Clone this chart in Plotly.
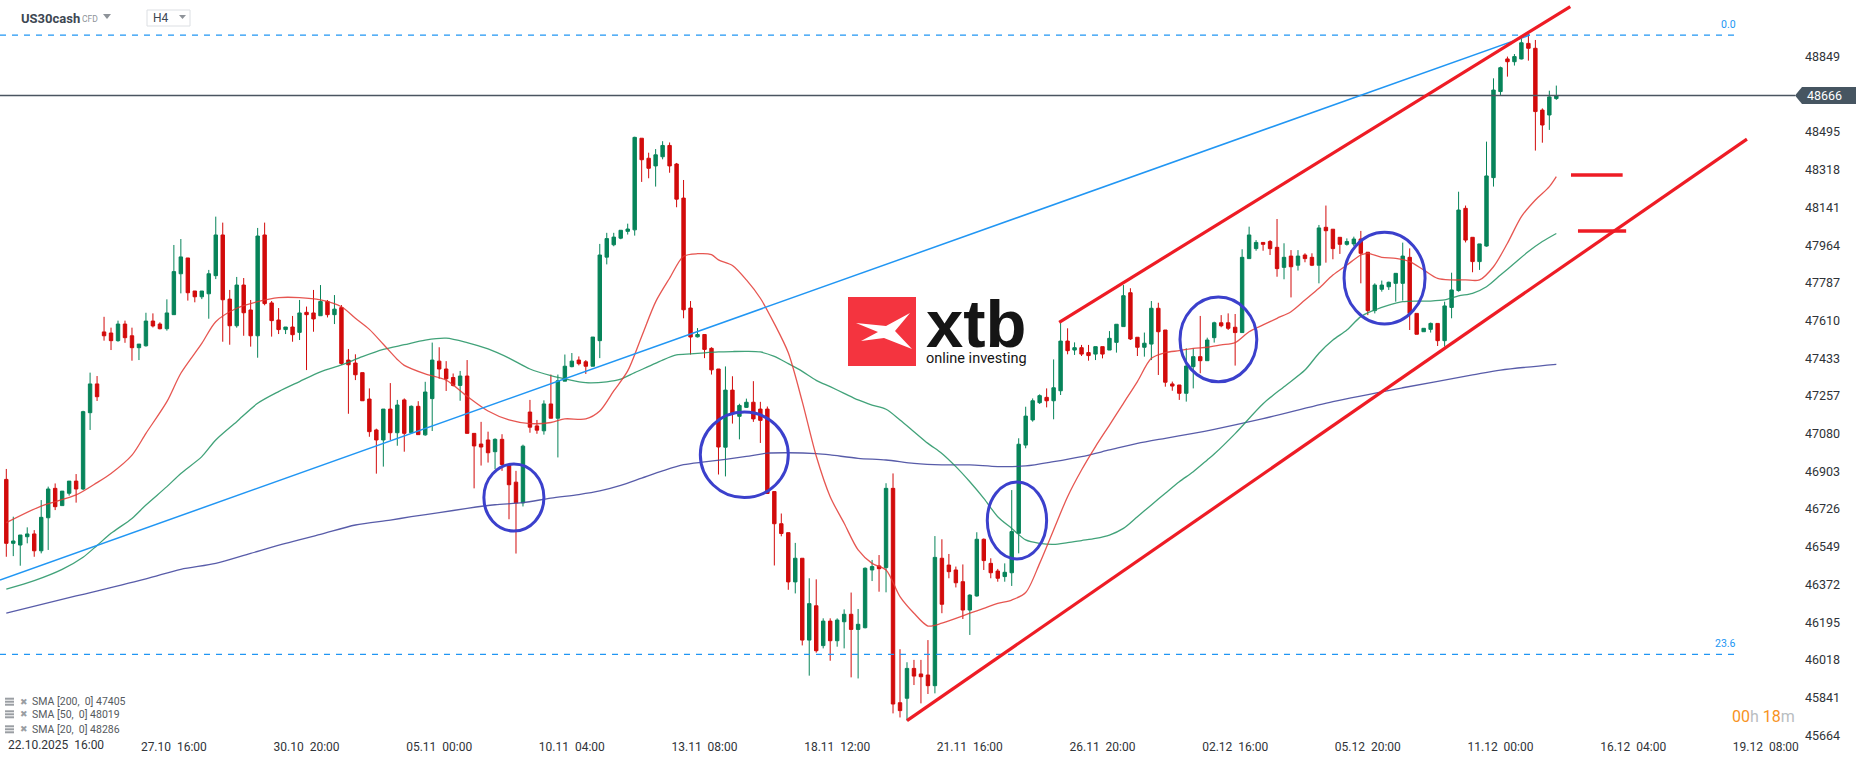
import plotly.graph_objects as go

# ---------------- DATA ----------------
OPEN = [46865,46565,46557,46596,46609,46530,46685,46823,46742,46800,
46857,46820,47178,47313,47557,47552,47516,47594,47539,47483,
47492,47608,47594,47572,47638,47830,47904,47749,47722,47736,
47821,48012,47711,47586,47777,47660,47539,48012,47693,47613,
47568,47580,47555,47649,47646,47633,47700,47638,47671,47425,
47411,47366,47242,47097,47050,47195,47084,47238,47084,47208,
47074,47244,47420,47383,47343,47306,47350,47081,47031,47050,
46995,47053,46935,46852,46755,47181,47116,47093,47219,47152,
47326,47394,47425,47417,47396,47516,47908,47966,47997,48029,
48036,48466,48372,48336,48379,48432,48345,48185,47669,47534,
47545,47480,47383,47016,47284,47161,47203,47227,47195,47195,
46808,46657,46615,46384,46495,46111,46272,46085,46200,46108,
46197,46232,46161,46169,46440,46459,46451,46823,45817,45838,
45978,45952,45947,45897,46495,46463,46440,46385,46252,46318,
46584,46471,46435,46409,46427,46612,47026,47144,47225,47250,
47234,47281,47514,47472,47483,47460,47453,47488,47472,47508,
47582,47741,47532,47485,47500,47668,47566,47313,47308,47269,
47394,47441,47422,47530,47600,47600,47579,47554,47901,47948,
47977,47981,47954,47860,47913,47870,47918,47907,47870,48048,
48039,48001,47968,47970,47993,47931,47657,47757,47769,47785,
47785,47907,47644,47558,47569,47597,47516,47672,47751,48137,
48001,47887,47960,48281,48685,48838,48825,48838,48911,48888,
48598,48575,48652]

HIGH = [46914,46690,46604,46640,46627,46768,46831,46846,46810,46857,
46890,47187,47366,47350,47628,47577,47610,47610,47577,47500,
47647,47644,47602,47710,47965,47993,47904,47749,47749,47848,
48098,48070,47754,47815,47810,47707,48045,48070,47702,47669,
47580,47632,47707,47676,47754,47777,47707,47730,47683,47477,
47452,47366,47292,47103,47195,47317,47238,47245,47212,47232,
47323,47507,47485,47420,47362,47374,47425,47081,47135,47089,
47058,47077,46939,46905,47028,47238,47144,47236,47357,47357,
47451,47458,47442,47425,47533,47970,48022,48022,48034,48065,
48473,48466,48398,48415,48452,48446,48350,48270,47702,47575,
47545,47485,47383,47395,47349,47220,47244,47326,47229,47207,
46808,46705,46615,46567,46495,46401,46396,46213,46213,46213,
46255,46334,46257,46452,46487,46510,46847,46893,46068,46007,
46018,46018,46111,46599,46584,46515,46456,46466,46326,46617,
46588,46495,46445,46471,46815,47058,47206,47245,47264,47292,
47428,47605,47574,47508,47496,47496,47488,47488,47561,47593,
47777,47762,47532,47554,47702,47694,47566,47324,47308,47480,
47480,47632,47530,47605,47636,47644,47641,47945,48051,47988,
47977,47988,48087,47973,47941,47941,47926,47926,48059,48150,
48039,48001,47996,48004,48031,47931,47785,47798,47793,47832,
47976,47949,47644,47574,47601,47597,47699,47835,48215,48150,
48001,47970,48450,48747,48802,48849,48861,48950,48955,48927,
48606,48689,48713]

LOW = [46502,46505,46460,46565,46502,46518,46534,46721,46742,46789,
46756,46815,47097,47233,47516,47472,47511,47506,47422,47425,
47488,47578,47569,47563,47638,47738,47704,47696,47711,47619,
47805,47511,47497,47577,47539,47488,47436,47682,47535,47547,
47547,47511,47519,47378,47558,47633,47625,47594,47402,47173,
47331,47234,47065,46892,46925,47050,47023,46995,47081,47075,
47070,47092,47337,47280,47301,47234,47081,46823,46930,46944,
46913,46905,46678,46517,46738,47084,47079,47075,47152,46968,
47326,47391,47400,47360,47396,47434,47874,47959,47992,48014,
48009,48261,48278,48239,48367,48304,48142,47621,47451,47531,
47434,47357,46888,46879,47127,47053,47200,47135,47036,46797,
46461,46598,46347,46330,46086,45944,46052,46072,46014,46080,
46072,45936,45931,46166,46388,46338,46335,45767,45748,45733,
45900,45814,45858,45861,46237,46401,46358,46210,46135,46315,
46440,46401,46385,46385,46365,46518,47011,47136,47219,47203,
47147,47261,47452,47449,47444,47422,47425,47433,47472,47460,
47582,47519,47444,47441,47425,47355,47300,47281,47238,47230,
47292,47363,47422,47507,47579,47566,47399,47554,47901,47938,
47938,47918,47816,47804,47719,47845,47884,47866,47785,47882,
47898,47923,47962,47960,47785,47636,47644,47746,47754,47699,
47704,47566,47546,47558,47554,47491,47488,47621,47746,47977,
47837,47848,47957,48239,48669,48755,48807,48836,48830,48408,
48445,48505,48646]

CLOSE = [46565,46576,46604,46609,46530,46687,46820,46737,46810,46857,
46820,47183,47313,47253,47539,47516,47594,47530,47483,47500,
47608,47585,47572,47646,47840,47909,47741,47722,47749,47830,
48012,47708,47586,47777,47647,47539,48007,47690,47610,47568,
47580,47544,47646,47638,47618,47700,47638,47664,47409,47403,
47356,47234,47089,47050,47195,47084,47214,47081,47208,47075,
47275,47425,47383,47337,47306,47350,47081,47022,47017,46990,
47053,46935,46840,46755,47021,47110,47096,47219,47152,47328,
47396,47420,47408,47396,47533,47918,47995,48002,48034,48040,
48470,48365,48325,48388,48432,48336,48180,47661,47533,47545,
47475,47379,47017,47284,47176,47212,47227,47149,47142,46799,
46657,46611,46384,46495,46111,46282,46061,46200,46108,46205,
46232,46161,46185,46448,46456,46446,46823,45811,45780,45978,
45942,45939,45897,46499,46279,46432,46380,46252,46322,46584,
46484,46427,46401,46429,46620,47030,47162,47234,47258,47234,
47295,47514,47469,47483,47453,47446,47488,47453,47527,47593,
47727,47524,47485,47504,47668,47558,47321,47303,47269,47397,
47441,47422,47519,47600,47586,47574,47554,47907,48012,47977,
47968,47948,47854,47907,47863,47913,47901,47870,48045,48032,
47948,47968,47981,47993,47926,47657,47777,47777,47790,47832,
47913,47644,47546,47574,47597,47516,47679,47754,48129,47988,
47887,47970,48289,48692,48797,48825,48849,48914,48888,48591,
48528,48660,48666]

SMA20_X = [0,5,10,13,15,18,20,23,25,28,30,33,36,39,42,45,48,50,52,54,
56,57,60,63,66,69,72,75,78,80,83,85,87,89,91,93,95,97,99,101,
102,104,106,108,110,112,114,116,118,120,122,124,126,128,130,132,134,136,138,140,
142,144,146,148,150,152,154,156,158,160,162,164,166,168,170,172,174,176,178,180,
182,184,186,188,190,192,194,195,197,199,201,203,205,207,209,211,213,215,217,219,221,222]
SMA20_V = [46662,46740,46792,46850,46893,46979,47081,47230,47363,47503,47605,47668,47699,47718,47718,47707,47675,47621,47569,47499,
47428,47400,47360,47331,47255,47186,47144,47127,47132,47149,47149,47186,47280,47374,47536,47698,47809,47912,47924,47920,
47895,47869,47801,47715,47596,47459,47230,46975,46784,46659,46534,46471,46440,46315,46237,46177,46190,46213,46237,46260,
46283,46299,46334,46471,46628,46784,46909,47019,47120,47222,47324,47433,47460,47469,47480,47485,47496,47507,47558,47590,
47621,47652,47707,47762,47824,47871,47918,47926,47907,47902,47887,47848,47808,47801,47801,47801,47863,47973,48098,48176,48239,48286]

SMA50_X = [0,4,8,11,13,15,18,20,23,25,28,30,33,36,39,42,45,48,51,54,
57,60,63,66,69,72,75,78,80,83,86,88,90,92,94,96,98,100,102,104,
106,108,110,112,114,116,118,120,122,124,126,128,130,132,134,136,138,140,142,144,
146,148,150,152,154,156,158,160,162,164,166,168,170,172,173,176,180,183,186,188,
190,192,194,196,198,200,202,204,206,208,210,212,214,216,218,220,222]
SMA50_V = [46350,46390,46443,46500,46555,46612,46682,46745,46831,46893,46972,47050,47136,47222,47277,47324,47370,47402,47441,47475,
47497,47519,47528,47507,47477,47434,47383,47352,47337,47319,47323,47335,47366,47395,47425,47449,47454,47459,47463,47465,
47466,47463,47442,47408,47372,47330,47300,47269,47238,47214,47194,47144,47089,47034,46987,46925,46854,46776,46690,46635,
46581,46565,46560,46568,46578,46588,46604,46635,46690,46745,46800,46854,46901,46956,46984,47080,47220,47300,47378,47457,
47519,47566,47629,47660,47683,47699,47702,47702,47707,47726,47738,47769,47824,47879,47934,47981,48019]

SMA200_X = [0,10,20,25,30,35,40,45,50,55,58,62,66,70,74,78,82,85,88,91,
94,97,100,103,106,109,112,116,118,122,126,130,134,138,142,146,150,154,158,162,
166,170,173,180,190,200,210,214,222]
SMA200_V = [46238,46318,46398,46443,46471,46518,46565,46607,46651,46674,46690,46709,46729,46746,46756,46777,46794,46811,46837,46871,
46905,46934,46947,46959,46973,46988,46990,46986,46980,46964,46956,46940,46933,46933,46925,46928,46948,46972,47003,47034,
47058,47081,47100,47150,47230,47295,47355,47378,47405]

XTICK_IDX = [5, 24, 43, 62, 81, 100, 119, 138, 157, 176, 195, 214, 233, 252]
XTICK_TEXT = ["22.10.2025  16:00", "27.10  16:00", "30.10  20:00", "05.11  00:00",
              "10.11  04:00", "13.11  08:00", "18.11  12:00", "21.11  16:00",
              "26.11  20:00", "02.12  16:00", "05.12  20:00", "11.12  00:00",
              "16.12  04:00", "19.12  08:00"]
YTICKS = [45664, 45841, 46018, 46195, 46372, 46549, 46726, 46903, 47080, 47257,
          47433, 47610, 47787, 47964, 48141, 48318, 48495, 48849]

LAST_PRICE = 48666
FIB_LEVELS = [("0.0", 48950), ("23.6", 46044)]
TREND_BLUE = ((-0.9, 46393), (218.2, 48950))
CHANNEL_UPPER = ((150.8, 47602), (224.0, 49084))
CHANNEL_LOWER = ((129.0, 45733), (249.3, 48462))
TARGETS = [(224.1, 231.5, 48293), (225.1, 232.0, 48031)]
CIRCLES = [(68.4, 77.0, 46623, 46937), (99.4, 112.0, 46780, 47181),
           (140.5, 149.0, 46492, 46853), (168.1, 179.1, 47323, 47721),
           (191.6, 203.2, 47594, 48025)]
SMA_LEGEND = [("SMA [200,  0]", 47405), ("SMA [50,  0]", 48019), ("SMA [20,  0]", 48286)]
SYMBOL, SYMBOL_TYPE, TIMEFRAME = "US30cash", "CFD", "H4"
TIMER = ("00", "18")
LOGO_WORD, LOGO_TAG = "xtb", "online investing"

# ---------------- STYLE / LAYOUT ----------------
W, H = 1866, 761
ML, MR, MT, MB = 0, 66, 0, 23
PW, PH = W - ML - MR, H - MT - MB
XR = [-0.902, 256.9]
YR = [45651.5, 49114.6]
GREEN, RED = "#07845a", "#d20b0b"
FONT = "Roboto"
NB = "\u00a0"

def px(X):  # pixel -> paper x
    return X / PW
def py(Y):  # pixel -> paper y
    return 1 - Y / PH
def yp(p):  # price -> paper y
    return (p - YR[0]) / (YR[1] - YR[0])

fig = go.Figure()
fig.add_trace(go.Candlestick(
    x=list(range(len(OPEN))), open=OPEN, high=HIGH, low=LOW, close=CLOSE,
    increasing=dict(line=dict(color=GREEN, width=1), fillcolor=GREEN),
    decreasing=dict(line=dict(color=RED, width=1), fillcolor=RED),
    whiskerwidth=0, hoverinfo="skip"))

for xs, vs, col in [(SMA200_X, SMA200_V, "rgba(70,74,160,0.9)"),
                    (SMA50_X, SMA50_V, "rgba(32,146,98,0.85)"),
                    (SMA20_X, SMA20_V, "rgba(226,56,50,0.85)")]:
    fig.add_trace(go.Scatter(x=xs, y=vs, mode="lines", hoverinfo="skip",
                             line=dict(color=col, width=1.3, shape="spline", smoothing=0.8)))

shapes = []
for lab, lv in FIB_LEVELS:
    shapes.append(dict(type="line", xref="x", yref="y", x0=XR[0], x1=248.0, y0=lv, y1=lv,
                       line=dict(color="#2196f3", width=1.2, dash="6px,6px")))
shapes.append(dict(type="line", xref="x", yref="y", x0=XR[0], x1=256.2, y0=LAST_PRICE, y1=LAST_PRICE,
                   line=dict(color="#4a5560", width=1.5)))
shapes.append(dict(type="line", xref="x", yref="y", x0=TREND_BLUE[0][0], y0=TREND_BLUE[0][1],
                   x1=TREND_BLUE[1][0], y1=TREND_BLUE[1][1], line=dict(color="#2196f3", width=1.5)))
for (a, b) in [CHANNEL_UPPER, CHANNEL_LOWER]:
    shapes.append(dict(type="line", xref="x", yref="y", x0=a[0], y0=a[1], x1=b[0], y1=b[1],
                       line=dict(color="#ee1c25", width=3.2)))
for x0, x1, lv in TARGETS:
    shapes.append(dict(type="line", xref="x", yref="y", x0=x0, x1=x1, y0=lv, y1=lv,
                       line=dict(color="#ee1c25", width=3.5)))
for x0, x1, y0, y1 in CIRCLES:
    shapes.append(dict(type="circle", xref="x", yref="y", x0=x0, x1=x1, y0=y0, y1=y1,
                       line=dict(color="#3b40cc", width=3)))

# current price tag
pc = yp(LAST_PRICE)
dh = 8.5 / PH
shapes.append(dict(type="path", xref="paper", yref="paper",
                   path=f"M {px(1795)},{pc} L {px(1802)},{pc+dh} L {px(1856)},{pc+dh} L {px(1856)},{pc-dh} L {px(1802)},{pc-dh} Z",
                   fillcolor="#465561", line=dict(width=0)))

# header widgets
shapes.append(dict(type="path", xref="paper", yref="paper",
                   path=f"M {px(103)},{py(14)} L {px(111)},{py(14)} L {px(107)},{py(19)} Z",
                   fillcolor="#8e9399", line=dict(width=0)))
shapes.append(dict(type="rect", xref="paper", yref="paper", x0=px(147), x1=px(190), y0=py(26), y1=py(10),
                   fillcolor="white", line=dict(color="#dcdfe3", width=1)))
shapes.append(dict(type="path", xref="paper", yref="paper",
                   path=f"M {px(179)},{py(15)} L {px(186)},{py(15)} L {px(182.5)},{py(19)} Z",
                   fillcolor="#8e9399", line=dict(width=0)))

# logo
shapes.append(dict(type="rect", xref="paper", yref="paper", x0=px(848), x1=px(916), y0=py(366), y1=py(297),
                   fillcolor="#f4343f", line=dict(width=0)))
logo_pts = [(856, 323), (886, 326), (910, 313), (895, 331), (912, 349), (884, 338), (861, 341), (878, 332)]
shapes.append(dict(type="path", xref="paper", yref="paper",
                   path="M " + " L ".join(f"{px(a)},{py(b)}" for a, b in logo_pts) + " Z",
                   fillcolor="white", line=dict(width=0)))

# legend icons
for k, Y in enumerate([701.7, 714.3, 729.3]):
    for dy in (-3, 0, 3):
        shapes.append(dict(type="line", xref="paper", yref="paper", x0=px(5), x1=px(14),
                           y0=py(Y + dy), y1=py(Y + dy), line=dict(color="#9a9ea3", width=2)))

ann = []
for lab, lv in FIB_LEVELS:
    ann.append(dict(xref="x", yref="y", x=248.0, y=lv, text=lab, showarrow=False, xanchor="right",
                    yanchor="bottom", yshift=2, font=dict(family=FONT, size=10.5, color="#2196f3")))
ann.append(dict(xref="paper", yref="paper", x=px(1805), y=pc, text=str(LAST_PRICE), showarrow=False,
                xanchor="left", yanchor="middle", font=dict(family=FONT, size=12.5, color="white")))
ann.append(dict(xref="paper", yref="paper", x=px(6), y=py(745), text=XTICK_TEXT[0].replace(" ", NB),
                showarrow=False, xanchor="left", yanchor="middle", font=dict(family=FONT, size=12, color="#2f3338")))
ann.append(dict(xref="paper", yref="paper", x=px(1797), y=py(716), showarrow=False, xanchor="right", yanchor="middle",
                text=(f"<span style='color:#f7931e'>{TIMER[0]}</span><span style='color:#b9bdc1'>h</span> "
                      f"<span style='color:#f7931e'>{TIMER[1]}</span><span style='color:#b9bdc1'>m</span>"),
                font=dict(family=FONT, size=16)))
ann.append(dict(xref="paper", yref="paper", x=px(19), y=py(18), text=f"<b>{SYMBOL}</b>", showarrow=False,
                xanchor="left", yanchor="middle", font=dict(family=FONT, size=13, color="#3d4752")))
ann.append(dict(xref="paper", yref="paper", x=px(80), y=py(19), text=SYMBOL_TYPE, showarrow=False,
                xanchor="left", yanchor="middle", font=dict(family=FONT, size=8.5, color="#8e9399")))
ann.append(dict(xref="paper", yref="paper", x=px(151), y=py(18), text=TIMEFRAME, showarrow=False,
                xanchor="left", yanchor="middle", font=dict(family=FONT, size=12, color="#3d4752")))
for (name, val), Y in zip(SMA_LEGEND, [701.7, 714.3, 729.3]):
    ann.append(dict(xref="paper", yref="paper", x=px(18), y=py(Y), text="✖", showarrow=False,
                    xanchor="left", yanchor="middle", font=dict(family="DejaVu Sans", size=9, color="#9a9ea3")))
    ann.append(dict(xref="paper", yref="paper", x=px(30), y=py(Y), text=f"{name} {val}".replace(" ", NB),
                    showarrow=False, xanchor="left", yanchor="middle",
                    font=dict(family=FONT, size=10.5, color="#555a60")))
# logo wordmark + tagline as one two-line text
ann.append(dict(xref="paper", yref="paper", x=px(924), y=py(369), showarrow=False,
                xanchor="left", yanchor="bottom", align="left",
                text=(f"<span style='font-size:67px;font-family:Liberation Sans'><b>{LOGO_WORD}</b></span><br>"
                      f"<span style='font-size:14.5px'>{LOGO_TAG}</span>"),
                font=dict(family=FONT, size=12.5, color="#151515")))

fig.update_layout(
    width=W, height=H, margin=dict(l=ML, r=MR, t=MT, b=MB, autoexpand=False),
    plot_bgcolor="white", paper_bgcolor="white", showlegend=False,
    shapes=shapes, annotations=ann,
    xaxis=dict(range=XR, showgrid=False, zeroline=False, showline=False, ticks="",
               tickvals=XTICK_IDX[1:], ticktext=[t.replace(" ", NB) for t in XTICK_TEXT[1:]],
               tickfont=dict(family=FONT, size=12, color="#2f3338"), rangeslider=dict(visible=False)),
    yaxis=dict(side="right", range=YR, showgrid=False, zeroline=False, showline=False, ticks="",
               tickvals=YTICKS, ticktext=[str(v) for v in YTICKS], ticklabelstandoff=4,
               tickfont=dict(family=FONT, size=12.5, color="#2f3338")),
)
fig.write_html("out.html", config={"displayModeBar": False},
               post_script="document.body.style.margin='0';document.body.style.overflow='hidden';")
